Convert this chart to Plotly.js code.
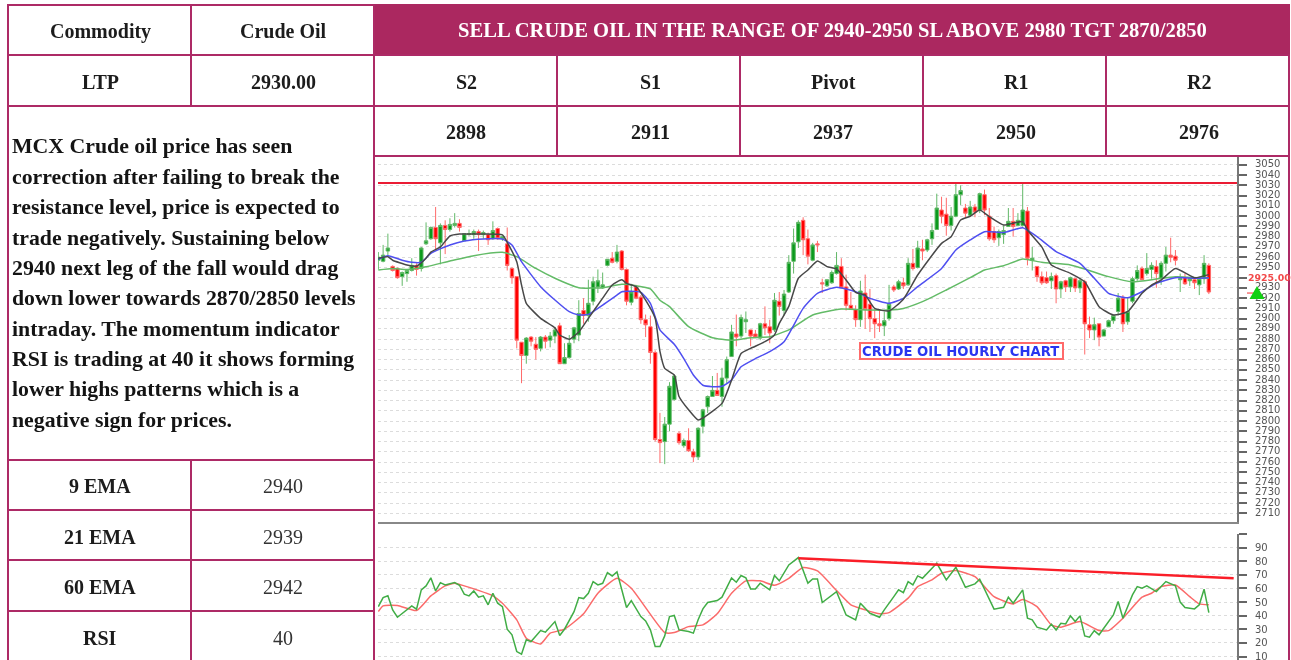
<!DOCTYPE html>
<html>
<head>
<meta charset="utf-8">
<script src="https://cdn.plot.ly/plotly-3.0.1.min.js"></script>
<style>
html,body{margin:0;padding:0;background:#fff;overflow:hidden}
#chart{width:1291px;height:660px;filter:blur(0.4px)}
</style>
</head>
<body>
<div id="chart"></div>
<script>
// ---------- table text ----------
const bannerText = "SELL CRUDE OIL IN THE RANGE OF 2940-2950 SL ABOVE 2980 TGT 2870/2850";
const headerLabels = ["Commodity","LTP"];
const headerValues = ["Crude Oil","2930.00"];
const levelNames = ["S2","S1","Pivot","R1","R2"];
const levelValues = ["2898","2911","2937","2950","2976"];
const paragraph = [
 "MCX Crude oil price has seen","correction after failing to break the",
 "resistance level, price is expected to","trade negatively. Sustaining below",
 "2940 next leg of the fall would drag","down lower towards 2870/2850 levels",
 "intraday. The momentum indicator","RSI is trading at 40 it shows forming",
 "lower highs patterns which is a","negative sign for prices."];
const indicatorNames = ["9 EMA","21 EMA","60 EMA","RSI"];
const indicatorValues = ["2940","2939","2942","40"];

// ---------- candles ----------
const open = [2957,2956,2966,2951,2949,2941,2944,2947,2952,2949,
2973,2978,2989,2974,2991,2987,2991,2993,2976,2982,
2982,2985,2982,2982,2978,2988,2978,2973,2949,2941,
2877,2864,2882,2875,2871,2882,2879,2883,2893,2856,
2862,2880,2884,2908,2903,2917,2931,2930,2952,2959,
2956,2966,2948,2916,2931,2921,2899,2892,2867,2782,
2780,2797,2821,2788,2776,2781,2770,2765,2795,2814,
2824,2830,2824,2842,2863,2885,2883,2897,2889,2885,
2881,2895,2892,2889,2917,2908,2926,2956,2975,2996,
2978,2957,2973,2935,2932,2935,2944,2951,2931,2913,
2909,2899,2925,2914,2900,2895,2893,2900,2931,2929,
2935,2933,2954,2950,2968,2967,2978,2987,3006,3002,
2991,3000,3021,3008,3001,3009,3006,3021,3000,2985,
2979,2982,2990,2995,2991,2991,3005,2957,2951,2941,
2940,2937,2942,2929,2937,2931,2939,2930,2936,2894,
2889,2895,2883,2892,2898,2907,2920,2897,2917,2939,
2949,2944,2948,2951,2939,2954,2962,2961,2938,2940,
2937,2938,2933,2939,2952];
const close = [2960,2962,2969,2947,2940,2945,2947,2952,2948,2969,
2976,2989,2978,2991,2987,2992,2993,2989,2983,2983,
2985,2982,2984,2977,2986,2978,2980,2952,2940,2879,
2864,2881,2878,2870,2882,2878,2883,2889,2856,2862,
2876,2891,2905,2903,2915,2936,2937,2933,2958,2955,
2965,2948,2917,2926,2920,2899,2894,2867,2782,2779,
2797,2834,2844,2779,2781,2771,2765,2793,2811,2824,
2830,2825,2842,2860,2887,2882,2901,2899,2883,2882,
2895,2891,2886,2918,2912,2924,2955,2974,2994,2977,
2961,2972,2972,2934,2938,2945,2952,2930,2913,2909,
2899,2927,2909,2900,2895,2893,2898,2914,2928,2936,
2932,2954,2949,2969,2966,2977,2986,3008,3000,2991,
3000,3021,3025,3003,3009,3004,3022,3006,2978,2977,
2985,2986,2995,2990,2996,3006,2959,2959,2941,2935,
2935,2941,2929,2936,2931,2940,2930,2937,2895,2889,
2894,2882,2889,2898,2903,2920,2895,2907,2939,2947,
2938,2949,2952,2944,2954,2962,2960,2957,2939,2934,
2939,2935,2939,2954,2926];
const high = [2965,2972,2983,2952,2950,2946,2948,2959,2954,2970,
2994,2990,3009,2993,2996,2998,3003,2997,2983,2987,
2987,2987,2986,2984,2995,2989,2981,2989,2950,2941,
2877,2882,2883,2882,2883,2884,2887,2892,2896,2876,
2884,2892,2918,2920,2938,2941,2948,2945,2958,2965,
2972,2967,2949,2934,2933,2923,2904,2903,2869,2808,
2804,2838,2845,2790,2783,2793,2773,2794,2812,2825,
2844,2847,2852,2863,2894,2904,2904,2907,2889,2889,
2896,2912,2899,2925,2926,2928,2962,2988,2996,2999,
2987,2974,2976,2939,2938,2947,2965,2959,2943,2926,
2913,2937,2943,2929,2909,2909,2907,2933,2933,2938,
2940,2959,2968,2976,2977,2978,2993,3022,3019,3018,
3009,3032,3030,3012,3015,3012,3023,3026,3008,2990,
2987,2991,3008,3008,3003,3032,3009,2970,2951,2946,
2946,2945,2944,2937,2938,2941,2940,2939,2938,2902,
2901,2895,2890,2899,2904,2925,2923,2921,2941,2952,
2951,2964,2955,2957,2956,2970,2979,2967,2944,2944,
2940,2940,2941,2962,2954];
const low = [2948,2955,2962,2946,2939,2932,2936,2946,2942,2946,
2972,2977,2967,2953,2963,2985,2989,2985,2976,2981,
2978,2966,2978,2972,2977,2977,2976,2947,2934,2871,
2837,2856,2873,2860,2868,2871,2872,2876,2856,2856,
2861,2876,2878,2895,2897,2913,2925,2929,2951,2954,
2954,2947,2913,2913,2919,2895,2882,2856,2780,2759,
2758,2790,2820,2777,2774,2770,2760,2762,2788,2808,
2824,2825,2814,2837,2863,2873,2881,2886,2873,2881,
2879,2884,2876,2887,2903,2903,2925,2944,2969,2962,
2953,2956,2965,2925,2931,2934,2943,2930,2908,2909,
2892,2892,2890,2887,2881,2887,2883,2898,2926,2928,
2929,2932,2947,2949,2957,2965,2972,2987,2993,2981,
2986,2999,3011,2999,3000,2999,3003,3001,2976,2974,
2971,2973,2990,2980,2990,2990,2952,2947,2936,2933,
2934,2929,2915,2920,2926,2926,2926,2925,2865,2881,
2879,2873,2883,2892,2895,2903,2887,2894,2915,2937,
2938,2942,2939,2930,2933,2946,2955,2952,2926,2933,
2932,2929,2923,2934,2924];
const bars = open.map((_, i) => i);

// ---------- moving averages (bar, value) ----------
const ema9Bar = [0,2,3,6,8,10,11,13,15,17,21,26,27,29,30,31,34,37,38,40,42,44,47,49,51,52,54,56,58,59,60,62,63,65,67,68,72,74,76,78,81,83,84,86,88,90,92,94,96,98,100,102,104,107,110,113,118,120,122,124,126,128,131,135,136,139,141,145,148,151,154,157,160,162,164,167,171,174];
const ema9Val = [2959,2960.5,2957,2952.4,2951.4,2959,2965,2970,2980.7,2982.6,2982.6,2981.7,2974.5,2955.6,2932.9,2915,2900.3,2891,2884,2880,2887,2900.3,2920,2932.9,2938,2934.5,2931.2,2918,2900.3,2868,2851.5,2845,2824,2811,2801,2803,2817.3,2840,2866,2871,2877.5,2884,2895.4,2912,2939.4,2947.5,2956.3,2950.8,2948.5,2937.7,2925.7,2923,2910,2907.5,2919,2942.6,2973.5,2980,2996.3,3000,3006,2999.6,2991.4,2994.7,2986.5,2970,2952.4,2944.2,2936,2911.7,2903.6,2906.8,2924.7,2932.8,2937.7,2949,2940,2943];
const ema21Bar = [0,2,5,7,9,11,15,18,22,26,28,30,34,37,40,42,44,47,50,51,55,57,59,62,64,66,68,70,72,74,76,79,82,85,89,92,96,100,103,107,110,113,118,121,124,127,131,135,138,142,147,150,153,157,160,163,167,171,174];
const ema21Val = [2958.2,2961.5,2957,2955,2955,2963.8,2971.9,2975.8,2977.8,2977.8,2971.9,2955.6,2931.2,2918.2,2906.8,2903.6,2904.2,2913.3,2923,2926.3,2925.7,2915,2889,2875,2861,2845,2835,2833.6,2834,2840,2853,2861,2867.8,2877.5,2910,2924.7,2930.6,2926.3,2919.8,2915,2919.8,2931.2,2949,2967,2976.8,2984.9,2984,2988.8,2980,2965.4,2954,2939.4,2924.7,2920.5,2926.3,2934.5,2940,2939.4,2940];
const ema60Bar = [0,3,6,10,15,20,26,29,33,37,42,47,51,54,57,59,61,65,70,74,78,82,86,91,97,103,107,110,114,119,124,127,131,135,139,145,148,153,158,163,167,174];
const ema60Val = [2947.5,2949,2948,2950.7,2956.3,2961.5,2964.7,2960.5,2949,2939.4,2930.2,2930.2,2933.5,2932.2,2929,2918,2911.7,2892.2,2881.4,2879,2881.4,2882.4,2889,2903.6,2909.4,2908.4,2908.4,2910,2916.6,2928,2940,2947.5,2951.7,2958.2,2955,2952.4,2948.5,2941,2936,2938.7,2941,2939.4];

// ---------- resistance line and RSI ----------
const resistanceBars = [-0.1, 180];
const resistanceVals = [3032.4, 3032.4];
const rsiBar = [0,1,2,3,4,5,7,8,9,10,11,12,13,14,16,17,18,19,20,21,22,23,24,25,26,27,28,29,30,31,32,34,35,37,38,39,41,42,43,44,45,46,47,48,49,50,51,52,53,54,55,56,57,58,59,60,61,62,63,65,66,67,68,69,71,72,74,75,76,77,78,79,80,82,83,84,86,88,90,91,92,93,96,98,100,101,103,105,106,108,109,110,111,112,113,114,117,119,121,123,125,126,128,129,131,132,133,135,136,137,138,140,141,142,143,144,145,146,147,148,149,150,151,153,154,155,156,158,159,160,161,163,165,167,168,169,170,171,172,173,174];
const rsiVal = [46.7,53.3,54.6,44.3,38.9,41.8,47.2,44.8,59,61.9,67.8,58.2,64.3,62.6,64.3,62.4,55.8,54.6,58.2,53.6,54.6,48,56.5,49.2,46.7,30.1,26,13.7,11.8,22.3,21,29.1,27.9,35.7,25.5,30.1,43,53.3,52.6,56.5,65.1,62.6,63.8,71.7,69.2,72.2,59,46,51.1,45.3,39.4,36.2,29.6,17.4,17.4,25.2,39.4,40.2,29.6,28.4,27.2,37,45,49.7,51.1,53.6,67.8,64.6,69.5,67.8,59.7,59.7,63.9,59,69.5,65.6,77.3,82.7,63.9,67,67,49.7,57.7,40.6,37,49.2,41.8,38.9,44.3,54,59,57,65,62.6,69.2,67.5,78.5,66.3,75.6,60.9,63.4,66.8,52.8,44.8,46.2,53.6,49.2,59,38.2,37,31.6,29.6,33.8,29.6,34.5,34,39.9,35.7,39.9,25.2,24.2,29.1,26,35.7,40.6,50.4,38.2,55.3,61.4,60.2,61.9,57.7,65.1,61.9,50,46,45.5,45,48,59.5,42.3];
const rsiAvgBar = [0,1,4,8,11,14,16,18,24,26,29,31,34,36,39,43,46,50,53,60,62,65,68,71,74,77,80,83,86,89,92,96,99,102,105,107,111,113,116,118,121,125,129,133,135,138,141,143,147,151,153,156,160,162,164,167,170,172,174];
const rsiAvgVal = [43.1,47.2,47.5,43.8,54.6,61.9,63.9,61.9,54.6,49.2,37,23.5,19.3,27.2,30.1,41.4,56.5,67.5,60.2,27.7,27.7,32,33.3,41.4,56.5,65.6,65.6,62.4,67.5,75.4,72.9,58.5,48,44.3,41.4,42.3,52.9,61.4,66.3,71.2,73.2,68.7,54,48.7,52,46.7,33.3,31.6,35.7,29.1,29.1,38.2,53.6,56.5,61.4,62.6,54,48.7,48];
const rsiTrendBars = [88, 179.2];
const rsiTrendVals = [82.2, 67.5];

// ---------- axis ticks ----------
const priceTicks = [3050,3040,3030,3020,3010,3000,2990,2980,2970,2960,2950,2940,2930,2920,2910,2900,2890,2880,2870,2860,2850,2840,2830,2820,2810,2800,2790,2780,2770,2760,2750,2740,2730,2720,2710];
const priceTickText = priceTicks.map(v => v === 2940 ? "" : String(v));
const rsiTicks = [100,90,80,70,60,50,40,30,20,10];
const rsiTickText = ["","90","80","70","60","50","40","30","20","10"];
const lastPrice = 2925;
const lastPriceLabel = "2925.00";
const chartNote = "CRUDE OIL HOURLY CHART";

// ---------- page geometry helpers ----------
const W = 1291, H = 660;
const px = x => x / W, py = y => 1 - y / H;
const MAROON = "#ad2a66";
const SERIF = "Liberation Serif, serif";

const shapes = [];
function rule(x0, y0, x1, y1) {
  shapes.push({type:"line", xref:"paper", yref:"paper", x0:px(x0), x1:px(x1), y0:py(y0), y1:py(y1),
               line:{color:MAROON, width:2}, layer:"above"});
}
shapes.push({type:"rect", xref:"paper", yref:"paper", x0:px(374), x1:px(1290), y0:py(4), y1:py(55),
             fillcolor:"#ab2860", line:{width:0}, layer:"below"});
rule(8,5,374,5); rule(8,55,1290,55); rule(8,106,1290,106); rule(374,156,1290,156);
rule(8,460,374,460); rule(8,510,374,510); rule(8,560,374,560); rule(8,611,374,611);
rule(8,4,8,660); rule(191,5,191,106); rule(191,460,191,660); rule(374,5,374,660);
[557,740,923,1106].forEach(x => rule(x,55,x,156));
rule(1289,55,1289,660);
// small last-price marker on the scale
shapes.push({type:"line", xref:"paper", yref:"y", x0:px(1247), x1:px(1257), y0:lastPrice, y1:lastPrice,
             line:{color:"#f03030", width:1}, layer:"above"});
shapes.push({type:"path", xref:"paper", yref:"y", xsizemode:"pixel", ysizemode:"pixel",
             xanchor:px(1257), yanchor:lastPrice, path:"M -7.5 -6 L 7.5 -6 L 0 7 Z",
             fillcolor:"#12d012", line:{width:0}, layer:"above"});
// frame of the chart note
shapes.push({type:"rect", xref:"paper", yref:"paper", x0:px(860), x1:px(1063), y0:py(343), y1:py(359),
             fillcolor:"#ffffff", line:{color:"#ff6a6a", width:2}, layer:"above"});

const annotations = [];
function label(text, x, y, opts={}) {
  annotations.push(Object.assign({text, xref:"paper", yref:"paper", x:px(x), y:py(y), showarrow:false,
    xanchor:"center", yanchor:"middle",
    font:{family:SERIF, size:20, color:"#1c1c1c", weight:700}}, opts));
}
label(bannerText, 832.5, 30, {font:{family:SERIF, size:20.6, color:"#ffffff", weight:700}});
const rowY = [31, 82];
headerLabels.forEach((t,i) => label(t, 100, rowY[i]));
headerValues.forEach((t,i) => label(t, 283, rowY[i]));
const levelX = [466,650,833,1016,1199];
levelNames.forEach((t,i) => label(t, levelX[i], 82));
levelValues.forEach((t,i) => label(t, levelX[i], 132));
const paraY = [146,177,207,238,268,298,329,359,389,420];
paragraph.forEach((t,i) => label(t, 10, paraY[i], {xanchor:"left", font:{family:SERIF, size:21.8, color:"#141414", weight:700}}));
const indY = [486,537,587,638];
indicatorNames.forEach((t,i) => label(t, 100, indY[i]));
indicatorValues.forEach((t,i) => label(t, 283, indY[i], {font:{family:SERIF, size:20, color:"#333333", weight:400}}));

annotations.push({text:chartNote, xref:"paper", yref:"paper", x:px(960.5), y:py(351), showarrow:false,
  xanchor:"center", yanchor:"middle",
  font:{family:"DejaVu Sans, sans-serif", size:13.2, color:"#2a35f0", weight:700}});
annotations.push({text:lastPriceLabel, xref:"paper", yref:"paper", x:px(1246), y:py(278), showarrow:false,
  xanchor:"left", yanchor:"middle", font:{family:"DejaVu Sans, sans-serif", size:9.4, color:"#f24a4a", weight:700}});

const lineTrace = (x,y,color,width,xa,ya,shape) => ({type:"scatter", mode:"lines", x, y, xaxis:xa, yaxis:ya,
  line:{color, width, shape:shape||"linear", smoothing:0.5}, hoverinfo:"skip", showlegend:false});

const traces = [
  {type:"candlestick", x:bars, open, high, low, close, xaxis:"x", yaxis:"y", showlegend:false,
   increasing:{line:{color:"#62b868", width:1}, fillcolor:"#0a9a1c"},
   decreasing:{line:{color:"#ff6a6a", width:1}, fillcolor:"#ff0000"}, whiskerwidth:0},
  lineTrace(resistanceBars, resistanceVals, "#ea1c34", 2, "x", "y"),
  lineTrace(ema60Bar, ema60Val, "#63bb67", 1.5, "x", "y", "spline"),
  lineTrace(ema21Bar, ema21Val, "#4f4ff0", 1.5, "x", "y", "spline"),
  lineTrace(ema9Bar, ema9Val, "#484848", 1.5, "x", "y", "spline"),
  lineTrace(rsiAvgBar, rsiAvgVal, "#fb6a6a", 1.5, "x2", "y2", "spline"),
  lineTrace(rsiBar, rsiVal, "#41ad46", 1.5, "x2", "y2"),
  lineTrace(rsiTrendBars, rsiTrendVals, "#fa1e28", 2.4, "x2", "y2")
];

const xRange = [-0.07, 179.9];
const yCommon = {side:"right", showline:true, linecolor:"#777777", linewidth:2, ticks:"outside", ticklen:8, tickwidth:2,
  tickcolor:"#666666", showgrid:true, gridcolor:"#dcdcdc", griddash:"3px,3px", gridwidth:1, zeroline:false,
  tickfont:{family:"DejaVu Sans, sans-serif", size:10, color:"#555555"}, tickmode:"array", fixedrange:true,
  ticklabelstandoff:6, ticklabelshift:-1, ticklabeloverflow:"allow"};

const layout = {
  width:W, height:H, margin:{l:0,r:0,t:0,b:0}, paper_bgcolor:"#ffffff", plot_bgcolor:"#ffffff",
  showlegend:false, hovermode:false, boxgap:0.28, boxgroupgap:0,
  xaxis:{domain:[px(378),px(1237)], range:xRange, anchor:"y", showgrid:false, zeroline:false, showticklabels:false,
         ticks:"", rangeslider:{visible:false}, showline:true, linecolor:"#888888", linewidth:2, fixedrange:true},
  xaxis2:{domain:[px(378),px(1237)], range:xRange, anchor:"y2", showgrid:false, zeroline:false, showticklabels:false,
         ticks:"", showline:false, fixedrange:true},
  yaxis:Object.assign({}, yCommon, {domain:[py(522),py(157)], range:[2701.5,3057.8], anchor:"x",
         tickvals:priceTicks, ticktext:priceTickText}),
  yaxis2:Object.assign({}, yCommon, {domain:[0,py(534)], range:[7.5,100], anchor:"x2",
         tickvals:rsiTicks, ticktext:rsiTickText, ticklabelshift:-0.5}),
  shapes, annotations
};
Plotly.newPlot("chart", traces, layout, {displayModeBar:false, staticPlot:true});
</script>
</body>
</html>
